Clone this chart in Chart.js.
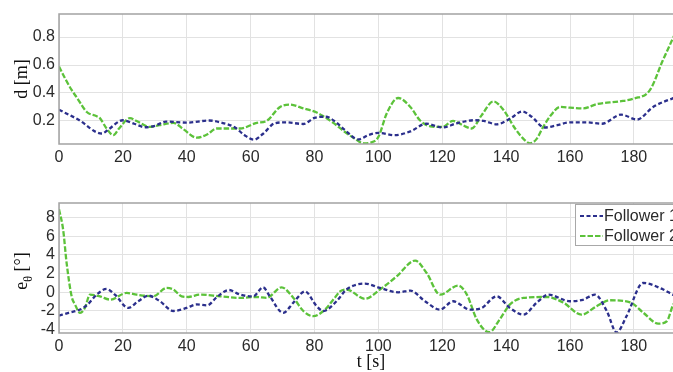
<!DOCTYPE html>
<html>
<head>
<meta charset="utf-8">
<script src="https://cdn.jsdelivr.net/npm/chart.js@4.4.1/dist/chart.umd.min.js"></script>
<style>
  html, body { margin: 0; padding: 0; background: #fff; overflow: hidden; }
  #wrap { position: relative; width: 673px; height: 372px; overflow: hidden; }
  canvas { position: absolute; left: 0; }
  #distChart { top: 0; }
  #headChart { top: 180px; }
</style>
</head>
<body>
<div id="wrap">
  <canvas id="distChart" width="700" height="180"></canvas>
  <canvas id="headChart" width="700" height="192"></canvas>
</div>
<script>
// ---- data -------------------------------------------------------------
const seriesNames = ['Follower 1', 'Follower 2'];

// tick labels
const timeTicks = [0, 20, 40, 60, 80, 100, 120, 140, 160, 180];
const distTicks = [0.2, 0.4, 0.6, 0.8];
const headTicks = [-4, -2, 0, 2, 4, 6, 8];

// distance d [m], follower 1
const distTime1 = [0, 6, 13.4, 15.5, 20, 23.5, 27, 30, 33.5, 40, 47, 50.5, 55, 58, 61, 64, 67.5, 71, 76.5, 80, 83.5, 86.5, 89.5, 93.7, 97, 100, 105, 110, 115, 120, 124.5, 130, 133, 137, 141.5, 145, 148, 152, 156, 160, 165, 170, 176, 181, 186, 192, 196];
const distVal1  = [0.28, 0.21, 0.11, 0.14, 0.205, 0.18, 0.155, 0.165, 0.195, 0.188, 0.203, 0.19, 0.155, 0.10, 0.066, 0.11, 0.183, 0.19, 0.178, 0.222, 0.23, 0.195, 0.135, 0.068, 0.10, 0.114, 0.098, 0.125, 0.18, 0.153, 0.183, 0.205, 0.2, 0.176, 0.22, 0.268, 0.23, 0.153, 0.17, 0.19, 0.19, 0.18, 0.245, 0.21, 0.30, 0.36, 0.39];

// distance d [m], follower 2
const distTime2 = [0, 2, 4, 5.5, 8.7, 11.8, 12.8, 14.9, 17, 18.8, 22.2, 24.3, 28.5, 31.5, 35.8, 39, 43.1, 46.5, 49.3, 56.7, 61.9, 65, 69.2, 72.3, 76.5, 80.7, 83, 85.9, 89, 92.5, 95.4, 97.5, 100, 102.6, 106.2, 110, 113, 116.2, 120, 123.4, 126.6, 129.2, 132.3, 136, 139.1, 142.8, 145.5, 147.5, 149.5, 151.6, 154, 156.9, 160, 164.2, 168.3, 175.6, 180, 185, 189, 192, 196];
const distVal2  = [0.59, 0.50, 0.42, 0.37, 0.264, 0.234, 0.22, 0.146, 0.098, 0.146, 0.22, 0.2, 0.157, 0.17, 0.186, 0.14, 0.08, 0.105, 0.146, 0.146, 0.186, 0.2, 0.30, 0.317, 0.29, 0.26, 0.23, 0.186, 0.13, 0.075, 0.04, 0.045, 0.086, 0.253, 0.364, 0.30, 0.205, 0.162, 0.157, 0.2, 0.167, 0.146, 0.24, 0.34, 0.28, 0.146, 0.07, 0.04, 0.07, 0.157, 0.24, 0.30, 0.295, 0.29, 0.32, 0.34, 0.36, 0.42, 0.63, 0.78, 0.97];

// heading error e_theta [deg], follower 1
const headTime1 = [0, 3, 6.6, 9, 11.8, 14.9, 17.5, 21.7, 24.8, 28, 31.6, 35.8, 40, 43.1, 46.4, 49.3, 53.2, 56.7, 60.8, 63.9, 66, 70.2, 73.4, 77, 80.7, 82.8, 86.9, 90, 95.8, 100.5, 106.2, 110, 114.6, 119.3, 123.4, 128.7, 132.3, 137, 141.2, 145.4, 149.6, 153.2, 160, 164, 167.8, 171.5, 174.6, 177.7, 182.9, 189.2, 192.2, 196];
const headVal1  = [-2.5, -2.2, -1.85, -1.3, -0.25, 0.36, -0.25, -1.67, -0.96, -0.36, -0.96, -2.0, -1.67, -1.3, -1.4, -0.55, 0.25, -0.25, -0.43, 0.53, -0.43, -2.2, -1.1, 0.1, -1.5, -2.0, -0.96, 0.3, 0.93, 0.47, 0.0, 0.18, -0.96, -1.85, -0.96, -1.85, -1.68, -0.43, -1.68, -2.4, -1.1, -0.25, -0.96, -0.8, -0.25, -2.0, -4.3, -2.55, 1.0, 0.3, -0.25, -0.8];

// heading error e_theta [deg], follower 2
const headTime2 = [0, 1.3, 2.4, 4, 5, 6.6, 8.1, 9.7, 12.8, 16, 21.2, 24.3, 29.5, 33.7, 35.8, 38.4, 40.5, 44.1, 50.4, 56.7, 61.9, 65, 69.7, 73.4, 76.5, 79.6, 83.3, 85.9, 88, 90, 95.8, 100.5, 105.7, 111.5, 115.1, 119.3, 125, 127.7, 130.8, 134.7, 138, 141.2, 145.4, 152.7, 157.9, 163.6, 168.3, 172.5, 178.8, 183, 187.6, 190.3, 192.2, 196];
const headVal2  = [8.9, 6.7, 3.1, -0.5, -1.3, -2.2, -1.67, -0.25, -0.43, -0.78, -0.07, -0.25, -0.43, 0.47, 0.3, -0.43, -0.5, -0.25, -0.43, -0.6, -0.5, -0.6, 0.53, -0.6, -2.0, -2.56, -1.85, -0.78, 0.1, 0.3, -0.7, 0.3, 1.7, 3.4, 2.07, -0.25, 0.72, -0.25, -2.9, -4.28, -2.9, -1.3, -0.6, -0.5, -1.1, -2.4, -1.5, -0.85, -1.07, -2.2, -3.35, -3.1, -1.4, 0.5];

// ---- styling ----------------------------------------------------------
const BLUE = '#2b2f8c';
const GREEN = '#5cc23a';
const SANS = '"Liberation Sans", Arial, sans-serif';
const SERIF = '"Liberation Serif", "Times New Roman", serif';
const GRID = '#e2e2e2';
const TEXT = '#2a2a2a';

function lineSet(label, times, values, color, dash) {
  return {
    label,
    data: times.map((t, i) => ({ x: t, y: values[i] })),
    borderColor: color,
    backgroundColor: color,
    borderWidth: 2.3,
    borderDash: dash,
    pointRadius: 0,
    fill: false,
    cubicInterpolationMode: 'monotone'
  };
}

// axis box drawn round the plotting area
const framePlugin = {
  id: 'frame',
  afterDatasetsDraw(chart) {
    const { ctx, chartArea: a } = chart;
    ctx.save();
    ctx.strokeStyle = '#a2a2a2';
    ctx.lineWidth = 1.5;
    ctx.strokeRect(a.left, a.top, a.right - a.left, a.bottom - a.top);
    ctx.restore();
  }
};

// axis titles (with subscript support) and an in-plot legend
const labelPlugin = {
  id: 'labels',
  afterDraw(chart, args, opts) {
    const { ctx, chartArea: a } = chart;
    ctx.save();
    ctx.fillStyle = '#111';
    if (opts.yParts) {
      const size = 18;
      const widths = opts.yParts.map(p => {
        ctx.font = (p.sub ? 12 : size) + 'px ' + SERIF;
        return ctx.measureText(p.text).width;
      });
      const total = widths.reduce((s, w) => s + w, 0);
      const cy = (a.top + a.bottom) / 2 + (opts.yShift || 0);
      ctx.translate(opts.yBase, cy);
      ctx.rotate(-Math.PI / 2);
      ctx.textBaseline = 'alphabetic';
      ctx.textAlign = 'left';
      let x = -total / 2;
      opts.yParts.forEach((p, i) => {
        ctx.font = (p.sub ? 12 : size) + 'px ' + SERIF;
        ctx.fillText(p.text, x, p.sub ? 5 : 0);
        x += widths[i];
      });
      ctx.setTransform(1, 0, 0, 1, 0, 0);
    }
    if (opts.xTitle) {
      ctx.font = '18px ' + SERIF;
      ctx.textAlign = 'center';
      ctx.textBaseline = 'alphabetic';
      ctx.fillText(opts.xTitle, (a.left + a.right) / 2 - 1, opts.xBase);
    }
    if (opts.legend) {
      const L = opts.legend;
      const sets = chart.data.datasets;
      ctx.fillStyle = '#fff';
      ctx.fillRect(L.x, L.y, L.w, L.h);
      ctx.strokeStyle = '#a8a8a8';
      ctx.lineWidth = 1;
      ctx.strokeRect(L.x + 0.5, L.y + 0.5, L.w, L.h);
      ctx.font = '16px ' + SANS;
      ctx.textBaseline = 'middle';
      ctx.textAlign = 'left';
      sets.forEach((d, i) => {
        const yy = L.y + 12 + i * 20;
        ctx.strokeStyle = d.borderColor;
        ctx.lineWidth = 2;
        ctx.setLineDash(d.borderDash);
        ctx.beginPath();
        ctx.moveTo(L.x + 5, yy);
        ctx.lineTo(L.x + 28, yy);
        ctx.stroke();
        ctx.setLineDash([]);
        ctx.fillStyle = TEXT;
        ctx.fillText(d.label, L.x + 29, yy + 1);
      });
    }
    ctx.restore();
  }
};

function axes(yMin, yMax, yTicks, fmt, xHeight) {
  const tickFont = { family: SANS, size: 16 };
  return {
    x: {
      type: 'linear', min: 0, max: 196,
      afterBuildTicks: s => { s.ticks = timeTicks.map(v => ({ value: v })); },
      afterFit: s => { s.height = xHeight; },
      grid: { color: GRID, drawTicks: false, lineWidth: 1 },
      border: { display: false },
      ticks: { padding: 4, font: tickFont, color: TEXT, maxRotation: 0, autoSkip: false }
    },
    y: {
      min: yMin, max: yMax,
      afterBuildTicks: s => { s.ticks = yTicks.map(v => ({ value: v })); },
      afterFit: s => { s.width = 59; },
      grid: { color: GRID, drawTicks: false, lineWidth: 1 },
      border: { display: false },
      ticks: { padding: 4, font: tickFont, color: TEXT, callback: fmt, autoSkip: false }
    }
  };
}

const common = {
  responsive: false,
  animation: false,
  devicePixelRatio: 1,
  events: []
};

new Chart(document.getElementById('distChart'), {
  type: 'line',
  data: {
    datasets: [
      lineSet(seriesNames[0], distTime1, distVal1, BLUE, [4, 2.5]),
      lineSet(seriesNames[1], distTime2, distVal2, GREEN, [5.5, 2])
    ]
  },
  options: {
    ...common,
    layout: { padding: { left: 0, top: 14, right: 15, bottom: 0 } },
    plugins: {
      legend: { display: false },
      tooltip: { enabled: false },
      labels: { yParts: [{ text: 'd [m]' }], yBase: 27 }
    },
    scales: axes(0.035, 0.965, distTicks, v => Number(v).toFixed(1), 36)
  },
  plugins: [framePlugin, labelPlugin]
});

new Chart(document.getElementById('headChart'), {
  type: 'line',
  data: {
    datasets: [
      lineSet(seriesNames[0], headTime1, headVal1, BLUE, [4, 2.5]),
      lineSet(seriesNames[1], headTime2, headVal2, GREEN, [5.5, 2])
    ]
  },
  options: {
    ...common,
    layout: { padding: { left: 0, top: 23, right: 15, bottom: 0 } },
    plugins: {
      legend: { display: false },
      tooltip: { enabled: false },
      labels: {
        yParts: [{ text: 'e' }, { text: 'θ', sub: true }, { text: ' [°]' }],
        yBase: 27, yShift: 3,
        xTitle: 't [s]', xBase: 187,
        legend: { x: 575, y: 24, w: 108, h: 41 }
      }
    },
    scales: axes(-4.36, 9.57, headTicks, v => String(v), 39)
  },
  plugins: [framePlugin, labelPlugin]
});
</script>
</body>
</html>
